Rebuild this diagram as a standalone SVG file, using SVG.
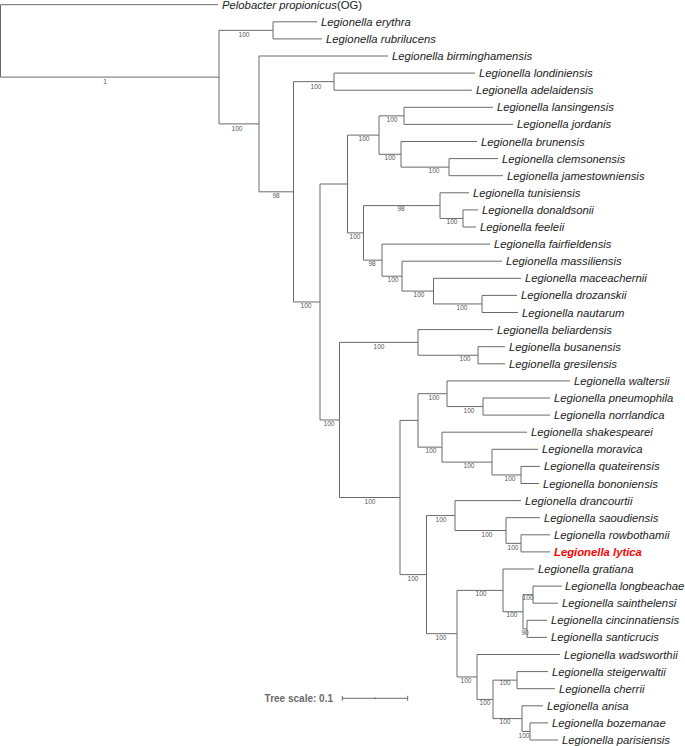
<svg xmlns="http://www.w3.org/2000/svg" width="685" height="746" viewBox="0 0 685 746">
<style>
.br{fill:none;stroke:#6a6a6a;stroke-width:1}
.tip{font-family:"Liberation Sans",Arial,sans-serif;font-size:11.3px;font-style:italic;fill:#222}
.hl{fill:#ff0000;font-weight:bold}
.bs{font-family:"Liberation Sans",Arial,sans-serif;font-size:6.5px;fill:#555;text-anchor:middle}
.sc{font-family:"Liberation Sans",Arial,sans-serif;font-size:10px;font-weight:bold;fill:#6a6a6a;text-anchor:end}
</style>
<rect width="685" height="746" fill="#fff"/>
<g id="connectors" class="br">
<path d="M0.5,4.7V77.1M0.5,4.7H218M0.5,77.1H219"/>
<path d="M219,30.35V123.9M219,30.35H273M273,21.8V38.9M273,21.8H317M273,38.9H322"/>
<path d="M219,123.9H259M259,56V191.8M259,56H388M259,191.8H293.5"/>
<path d="M293.5,81.65V301.97M293.5,81.65H334M334,73.1V90.2M334,73.1H475M334,90.2H472"/>
<path d="M293.5,301.97H320M320,184V419.95M320,184H347.5M347.5,135.1V232.9"/>
<path d="M347.5,135.1H379M379,115.85V154.3M379,115.85H404M404,107.3V124.4M404,107.3H493M404,124.4H513"/>
<path d="M379,154.3H401M401,141.5V167.15M401,141.5H477M401,167.15H449M449,158.6V175.7M449,158.6H498M449,175.7H503"/>
<path d="M347.5,232.9H363.5M363.5,205.6V260.15M363.5,205.6H440M440,192.8V218.45M440,192.8H469M440,218.45H463M463,209.9V227M463,209.9H478M463,227H476"/>
<path d="M363.5,260.15H382M382,244.1V276.2M382,244.1H490M382,276.2H402M402,261.2V291.1M402,261.2H502M402,291.1H433.5M433.5,278.3V303.95M433.5,278.3H521M433.5,303.95H482M482,295.4V312.5M482,295.4H517M482,312.5H518"/>
<path d="M320,419.95H339.5M339.5,342.4V497.5M339.5,342.4H418M418,329.6V355.25M418,329.6H493M418,355.25H478M478,346.7V363.8M478,346.7H505M478,363.8H505"/>
<path d="M339.5,497.5H400M400,420.4V574.6M400,420.4H418M418,393.7V447.15M418,393.7H447M447,380.9V406.55M447,380.9H570M447,406.55H483M483,398V415.1M483,398H550M483,415.1H550"/>
<path d="M418,447.15H442M442,432.2V462.1M442,432.2H527M442,462.1H492M492,449.3V474.95M492,449.3H538M492,474.95H521M521,466.4V483.5M521,466.4H540M521,483.5H539"/>
<path d="M400,574.6H426.5M426.5,515.55V633.7M426.5,515.55H455M455,500.6V530.5M455,500.6H521M455,530.5H506M506,517.7V543.35M506,517.7H540M506,543.35H521M521,534.8V551.9M521,534.8H550M521,551.9H550"/>
<path d="M426.5,633.7H457M457,590.4V676.95M457,590.4H503M503,569V611.75M503,569H534M503,611.75H523M523,594.65V628.85M523,594.65H533M533,586.1V603.2M533,586.1H562M533,603.2H558M523,628.85H527M527,620.3V637.4M527,620.3H547M527,637.4H547"/>
<path d="M457,676.95H477M477,654.5V699.4M477,654.5H560M477,699.4H493M493,680.15V718.6M493,680.15H517M517,671.6V688.7M517,671.6H548M517,688.7H555M493,718.6H522M522,705.8V731.45M522,705.8H543M522,731.45H530M530,722.9V740M530,722.9H548M530,740H558"/>
</g>
<g id="tips">
<g id="t0"><text class="tip" x="222" y="9">Pelobacter propionicus<tspan font-style="normal">(OG)</tspan></text></g>
<g id="t1"><text class="tip" x="321" y="25.8">Legionella erythra</text></g>
<g id="t2"><text class="tip" x="326" y="42.9">Legionella rubrilucens</text></g>
<g id="t3"><text class="tip" x="392" y="60">Legionella birminghamensis</text></g>
<g id="t4"><text class="tip" x="479" y="77.1">Legionella londiniensis</text></g>
<g id="t5"><text class="tip" x="476" y="94.2">Legionella adelaidensis</text></g>
<g id="t6"><text class="tip" x="497" y="111.3">Legionella lansingensis</text></g>
<g id="t7"><text class="tip" x="517" y="128.4">Legionella jordanis</text></g>
<g id="t8"><text class="tip" x="481" y="145.5">Legionella brunensis</text></g>
<g id="t9"><text class="tip" x="502" y="162.6">Legionella clemsonensis</text></g>
<g id="t10"><text class="tip" x="507" y="179.7">Legionella jamestowniensis</text></g>
<g id="t11"><text class="tip" x="473" y="196.8">Legionella tunisiensis</text></g>
<g id="t12"><text class="tip" x="482" y="213.9">Legionella donaldsonii</text></g>
<g id="t13"><text class="tip" x="480" y="231">Legionella feeleii</text></g>
<g id="t14"><text class="tip" x="494" y="248.1">Legionella fairfieldensis</text></g>
<g id="t15"><text class="tip" x="506" y="265.2">Legionella massiliensis</text></g>
<g id="t16"><text class="tip" x="525" y="282.3">Legionella maceachernii</text></g>
<g id="t17"><text class="tip" x="521" y="299.4">Legionella drozanskii</text></g>
<g id="t18"><text class="tip" x="522" y="316.5">Legionella nautarum</text></g>
<g id="t19"><text class="tip" x="497" y="333.6">Legionella beliardensis</text></g>
<g id="t20"><text class="tip" x="509" y="350.7">Legionella busanensis</text></g>
<g id="t21"><text class="tip" x="509" y="367.8">Legionella gresilensis</text></g>
<g id="t22"><text class="tip" x="574" y="384.9">Legionella waltersii</text></g>
<g id="t23"><text class="tip" x="554" y="402">Legionella pneumophila</text></g>
<g id="t24"><text class="tip" x="554" y="419.1">Legionella norrlandica</text></g>
<g id="t25"><text class="tip" x="531" y="436.2">Legionella shakespearei</text></g>
<g id="t26"><text class="tip" x="542" y="453.3">Legionella moravica</text></g>
<g id="t27"><text class="tip" x="544" y="470.4">Legionella quateirensis</text></g>
<g id="t28"><text class="tip" x="543" y="487.5">Legionella bononiensis</text></g>
<g id="t29"><text class="tip" x="525" y="504.6">Legionella drancourtii</text></g>
<g id="t30"><text class="tip" x="544" y="521.7">Legionella saoudiensis</text></g>
<g id="t31"><text class="tip" x="554" y="538.8">Legionella rowbothamii</text></g>
<g id="t32"><text class="tip hl" x="554" y="555.9">Legionella lytica</text></g>
<g id="t33"><text class="tip" x="538" y="573">Legionella gratiana</text></g>
<g id="t34"><text class="tip" x="565" y="590.1">Legionella longbeachae</text></g>
<g id="t35"><text class="tip" x="562" y="607.2">Legionella sainthelensi</text></g>
<g id="t36"><text class="tip" x="551" y="624.3">Legionella cincinnatiensis</text></g>
<g id="t37"><text class="tip" x="551" y="641.4">Legionella santicrucis</text></g>
<g id="t38"><text class="tip" x="564" y="658.5">Legionella wadsworthii</text></g>
<g id="t39"><text class="tip" x="552" y="675.6">Legionella steigerwaltii</text></g>
<g id="t40"><text class="tip" x="559" y="692.7">Legionella cherrii</text></g>
<g id="t41"><text class="tip" x="547" y="709.8">Legionella anisa</text></g>
<g id="t42"><text class="tip" x="552" y="726.9">Legionella bozemanae</text></g>
<g id="t43"><text class="tip" x="562" y="744">Legionella parisiensis</text></g>
</g>
<g id="support">
<text class="bs" x="105" y="84">1</text>
<text class="bs" x="244" y="37">100</text>
<text class="bs" x="237" y="131">100</text>
<text class="bs" x="276" y="198">98</text>
<text class="bs" x="316" y="89">100</text>
<text class="bs" x="364" y="141">100</text>
<text class="bs" x="392" y="122">100</text>
<text class="bs" x="390" y="160">100</text>
<text class="bs" x="434" y="173">100</text>
<text class="bs" x="401" y="211">98</text>
<text class="bs" x="452" y="224">100</text>
<text class="bs" x="355" y="239">100</text>
<text class="bs" x="372" y="266">98</text>
<text class="bs" x="393" y="282">100</text>
<text class="bs" x="419" y="297">100</text>
<text class="bs" x="462" y="310">100</text>
<text class="bs" x="306" y="308">100</text>
<text class="bs" x="379" y="349">100</text>
<text class="bs" x="465" y="361">100</text>
<text class="bs" x="329" y="426">100</text>
<text class="bs" x="434" y="400">100</text>
<text class="bs" x="469" y="413">100</text>
<text class="bs" x="431" y="453">100</text>
<text class="bs" x="469" y="468">100</text>
<text class="bs" x="510" y="481">100</text>
<text class="bs" x="370" y="504">100</text>
<text class="bs" x="441" y="522">100</text>
<text class="bs" x="487" y="537">100</text>
<text class="bs" x="513" y="550">100</text>
<text class="bs" x="413" y="581">100</text>
<text class="bs" x="481" y="596">100</text>
<text class="bs" x="512" y="617">100</text>
<text class="bs" x="528" y="600">100</text>
<text class="bs" x="525" y="635">90</text>
<text class="bs" x="441" y="640">100</text>
<text class="bs" x="466" y="683">100</text>
<text class="bs" x="505" y="685">100</text>
<text class="bs" x="485" y="705">100</text>
<text class="bs" x="505" y="724">100</text>
<text class="bs" x="524" y="738">100</text>
</g>
<g id="scale">
<text class="sc" x="333" y="701.5">Tree scale: 0.1</text>
<path class="br" d="M342.3,698.3H407.7M342.3,695.8V700.8M407.7,695.8V700.8M375,697.3V699.3"/>
</g>
</svg>
